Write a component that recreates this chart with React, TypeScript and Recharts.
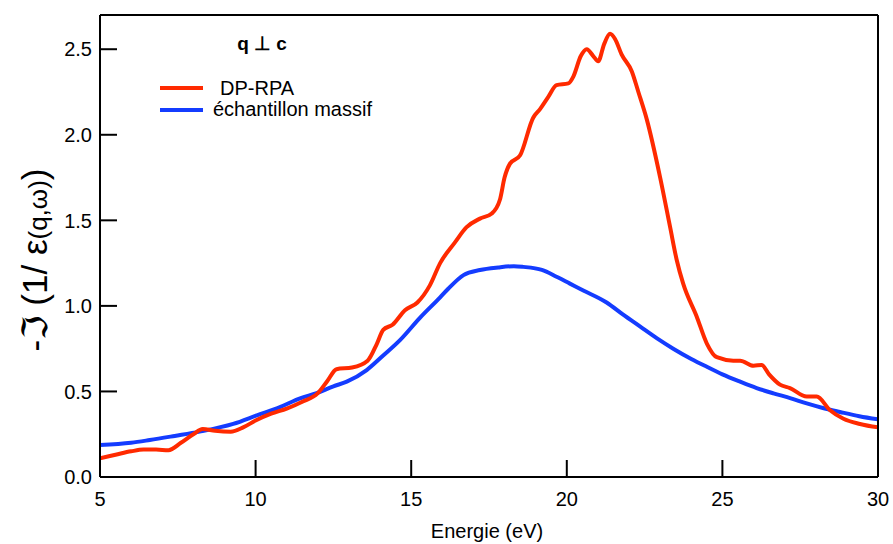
import React from 'react';
import { LineChart, Line, XAxis, YAxis } from 'recharts';

const redX = [5.0, 5.5, 6.0, 6.4, 6.8, 7.2, 7.6, 8.0, 8.3, 8.7, 9.2, 9.6, 10.0, 10.5, 11.0, 11.5, 12.0, 12.3, 12.6, 13.1, 13.6, 13.9, 14.1, 14.4, 14.8, 15.2, 15.6, 15.93, 16.4, 16.78, 17.21, 17.59, 17.85, 18.0, 18.17, 18.5, 18.92, 19.14, 19.4, 19.67, 20.05, 20.21, 20.45, 20.64, 20.85, 21.01, 21.2, 21.39, 21.55, 21.76, 22.09, 22.3, 22.57, 23.0, 23.32, 23.53, 23.74, 24.17, 24.5, 24.82, 25.35, 25.57, 26.0, 26.26, 26.5, 26.85, 27.17, 27.71, 28.03, 28.46, 28.89, 29.42, 30.0];
const redY = [0.11, 0.13, 0.15, 0.16, 0.16, 0.157, 0.2, 0.25, 0.28, 0.27, 0.265, 0.29, 0.33, 0.37, 0.4, 0.44, 0.49, 0.56, 0.63, 0.64, 0.68, 0.78, 0.86, 0.89, 0.975, 1.02, 1.12, 1.25, 1.37, 1.46, 1.51, 1.54, 1.62, 1.75, 1.83, 1.88, 2.1, 2.15, 2.22, 2.29, 2.3, 2.34, 2.46, 2.5, 2.46, 2.43, 2.53, 2.59, 2.56, 2.47, 2.37, 2.25, 2.09, 1.75, 1.46, 1.27, 1.13, 0.94, 0.78, 0.7, 0.68, 0.68, 0.65, 0.655, 0.6, 0.54, 0.52, 0.47, 0.47, 0.39, 0.34, 0.31, 0.29];

const blueX = [5, 6, 6.6, 7.4, 8.2, 9.28, 10.04, 10.8, 11.43, 11.96, 12.5, 12.93, 13.57, 14.1, 14.64, 15.28, 15.93, 16.19, 16.68, 17.21, 17.8, 18.3, 18.6, 19.2, 19.67, 20.1, 20.53, 21.28, 21.8, 22.35, 22.9, 23.42, 24.0, 24.5, 25.0, 25.57, 26.1, 26.64, 27.2, 27.71, 28.2, 28.78, 29.4, 30];
const blueY = [0.187, 0.2, 0.216, 0.24, 0.265, 0.31, 0.36, 0.41, 0.46, 0.49, 0.53, 0.557, 0.625, 0.71, 0.8, 0.93, 1.05, 1.1, 1.18, 1.21, 1.225, 1.232, 1.228, 1.21, 1.17, 1.13, 1.09, 1.02, 0.95, 0.88, 0.81, 0.75, 0.69, 0.644, 0.6, 0.557, 0.52, 0.489, 0.46, 0.43, 0.405, 0.38, 0.355, 0.337];

const xTicks = [5, 10, 15, 20, 25, 30];
const yTicks = [0, 0.5, 1.0, 1.5, 2.0, 2.5];

const seriesNames = ['DP-RPA', 'échantillon massif'];
const title = 'q ⊥ c';
const xLabel = 'Energie (eV)';

const redData = redX.map((x, i) => ({ x, y: redY[i] }));
const blueData = blueX.map((x, i) => ({ x, y: blueY[i] }));

const RED = '#ff2a00';
const BLUE = '#143cff';
const FONT = '"Liberation Sans", Arial, Helvetica, sans-serif';

const W = 893;
const H = 544;
const LEFT = 100;
const RIGHT = 878;
const TOP = 15;
const BOTTOM = 477;
const TICK = 17;

const LeftTick = (props: any) => {
  const { y, payload } = props;
  return (
    <g>
      <line x1={LEFT} x2={LEFT + TICK} y1={y} y2={y} stroke="#000" strokeWidth={2} />
      <text x={LEFT - 8} y={y} dy="0.36em" textAnchor="end" fontSize={20} fontFamily={FONT} fill="#000">
        {Number(payload.value).toFixed(1)}
      </text>
    </g>
  );
};

const RightTick = (props: any) => {
  const { y } = props;
  return <line x1={RIGHT} x2={RIGHT - TICK} y1={y} y2={y} stroke="#000" strokeWidth={2} />;
};

const BottomTick = (props: any) => {
  const { x, payload } = props;
  return (
    <g>
      <line x1={x} x2={x} y1={BOTTOM} y2={BOTTOM - TICK} stroke="#000" strokeWidth={2} />
      <text x={x} y={BOTTOM + 29} textAnchor="middle" fontSize={20} fontFamily={FONT} fill="#000">
        {payload.value}
      </text>
    </g>
  );
};

export default function App() {
  return (
    <div style={{ position: 'absolute', left: 0, top: 0, width: W, height: H, background: '#fff' }}>
      <LineChart width={W} height={H} margin={{ top: 0, right: 0, bottom: 0, left: 0 }}>
        <XAxis
          xAxisId="b"
          dataKey="x"
          type="number"
          domain={[5, 30]}
          ticks={xTicks}
          height={H - BOTTOM}
          tickLine={false}
          axisLine={{ stroke: '#000', strokeWidth: 2 }}
          tick={<BottomTick />}
          interval={0}
          allowDataOverflow
        />
        <XAxis
          xAxisId="t"
          orientation="top"
          dataKey="x"
          type="number"
          domain={[5, 30]}
          height={TOP}
          tick={false}
          tickLine={false}
          axisLine={{ stroke: '#000', strokeWidth: 2 }}
        />
        <YAxis
          yAxisId="l"
          type="number"
          domain={[0, 2.7]}
          ticks={yTicks}
          width={LEFT}
          tickLine={false}
          axisLine={{ stroke: '#000', strokeWidth: 2 }}
          tick={<LeftTick />}
          interval={0}
          allowDataOverflow
        />
        <YAxis
          yAxisId="r"
          orientation="right"
          type="number"
          domain={[0, 2.7]}
          ticks={yTicks}
          width={W - RIGHT}
          tickLine={false}
          axisLine={{ stroke: '#000', strokeWidth: 2 }}
          tick={<RightTick />}
          interval={0}
        />
        <Line
          xAxisId="b"
          yAxisId="l"
          data={blueData}
          dataKey="y"
          type="monotone"
          stroke={BLUE}
          strokeWidth={4}
          dot={false}
          isAnimationActive={false}
        />
        <Line
          xAxisId="b"
          yAxisId="l"
          data={redData}
          dataKey="y"
          type="monotone"
          stroke={RED}
          strokeWidth={4}
          dot={false}
          isAnimationActive={false}
        />
      </LineChart>
      <svg width={W} height={H} style={{ position: 'absolute', left: 0, top: 0, pointerEvents: 'none' }}>
        <text x={262} y={50} textAnchor="middle" fontSize={19} fontWeight="bold" fontFamily={FONT} fill="#000">
          {title}
        </text>
        <line x1={160} x2={203} y1={88} y2={88} stroke={RED} strokeWidth={4} />
        <text x={220} y={95} fontSize={20} fontFamily={FONT} fill="#000">{seriesNames[0]}</text>
        <line x1={160} x2={203} y1={110} y2={110} stroke={BLUE} strokeWidth={4} />
        <text x={213} y={116} fontSize={20} fontFamily={FONT} fill="#000">{seriesNames[1]}</text>
        <text
          transform="translate(47,260) rotate(-90)"
          textAnchor="middle"
          fontFamily={FONT}
          fontSize={35}
          fill="#000"
        >
          <tspan>-</tspan>
          <tspan fontFamily='"DejaVu Serif", "DejaVu Sans", serif'>ℑ</tspan>
          <tspan> (1/ ε</tspan>
          <tspan fontSize={26}>(q,ω)</tspan>
          <tspan>)</tspan>
        </text>
        <text x={487} y={538} textAnchor="middle" fontSize={20} fontFamily={FONT} fill="#000">
          {xLabel}
        </text>
      </svg>
    </div>
  );
}
